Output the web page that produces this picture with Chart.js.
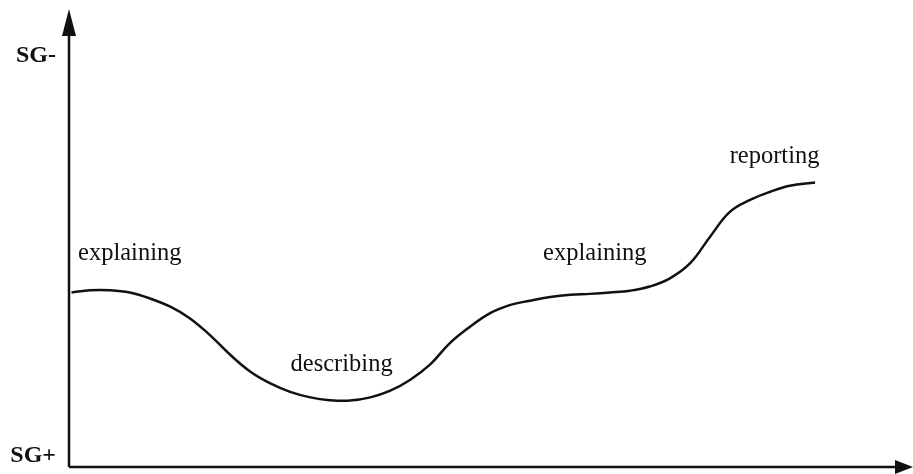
<!DOCTYPE html>
<html>
<head>
    <meta charset="UTF-8">
    <title>Semantic gravity profile</title>
    <script src="https://cdn.jsdelivr.net/npm/chart.js"></script>
    <style>
        html, body { margin: 0; padding: 0; background: #fff; }
        #wrap { width: 913px; height: 474px; position: relative; }
    </style>
</head>
<body>
<div id="wrap"><canvas id="sgChart"></canvas></div>
<script>
    // progress through the lesson (0-100) and semantic gravity level (0 = SG+, 100 = SG-)
    const progress = [0.3, 2.5, 4.9, 7.2, 9.6, 12.0, 14.3, 16.7, 19.1, 21.5, 23.8, 26.2, 28.6, 30.9, 33.3, 35.7,
                      38.0, 40.4, 42.8, 45.1, 47.5, 49.9, 52.3, 54.6, 57.0, 59.4, 61.7, 64.1, 66.5, 68.8, 71.2,
                      73.6, 76.0, 78.3, 80.7, 83.1, 85.4, 88.4];
    const sgLevel = [38.1, 38.6, 38.6, 38.1, 36.8, 35.0, 32.5, 28.8, 24.5, 20.8, 18.3, 16.4, 15.2, 14.6, 14.5, 15.2,
                     16.6, 19.0, 22.4, 27.0, 30.6, 33.6, 35.4, 36.3, 37.1, 37.6, 37.8, 38.1, 38.5, 39.4, 41.2,
                     44.5, 50.4, 55.7, 58.3, 60.1, 61.4, 62.1];

    // phase labels along the curve
    const phaseNames = ['explaining', 'describing', 'explaining', 'reporting'];
    const phaseX = [7.2, 32.3, 62.3, 83.6];
    const phaseY = [46.7, 22.3, 46.7, 67.7];

    const axisTop = 'SG-';
    const axisBottom = 'SG+';

    const points = progress.map((x, i) => ({ x: x, y: sgLevel[i] }));

    const annotations = {
        id: 'annotations',
        afterDraw(chart) {
            const ctx = chart.ctx;
            const xs = chart.scales.x;
            const ys = chart.scales.y;
            const x0 = xs.getPixelForValue(xs.min);
            const x1 = xs.getPixelForValue(xs.max);
            const y0 = ys.getPixelForValue(ys.min);
            const y1 = ys.getPixelForValue(ys.max);

            ctx.save();
            ctx.strokeStyle = '#111';
            ctx.fillStyle = '#111';
            ctx.lineWidth = 2.5;

            // axes
            ctx.beginPath();
            ctx.moveTo(x0, y0);
            ctx.lineTo(x0, y1 + 20);
            ctx.moveTo(x0, y0);
            ctx.lineTo(x1 - 12, y0);
            ctx.stroke();

            // arrowheads
            ctx.beginPath();
            ctx.moveTo(x0, y1);
            ctx.lineTo(x0 - 7, y1 + 27);
            ctx.lineTo(x0 + 7, y1 + 27);
            ctx.closePath();
            ctx.fill();
            ctx.beginPath();
            ctx.moveTo(x1, y0);
            ctx.lineTo(x1 - 18, y0 - 7);
            ctx.lineTo(x1 - 18, y0 + 7);
            ctx.closePath();
            ctx.fill();

            // phase labels
            ctx.font = '24.5px "Liberation Serif", "Times New Roman", serif';
            ctx.textAlign = 'center';
            ctx.textBaseline = 'middle';
            phaseNames.forEach((name, i) => {
                ctx.fillText(name, xs.getPixelForValue(phaseX[i]), ys.getPixelForValue(phaseY[i]));
            });

            // axis end labels
            ctx.font = 'bold 24px "Liberation Serif", "Times New Roman", serif';
            ctx.textAlign = 'right';
            ctx.fillText(axisTop, x0 - 13, 56);
            ctx.fillText(axisBottom, x0 - 13, y0 - 11);
            ctx.restore();
        }
    };

    new Chart(document.getElementById('sgChart'), {
        type: 'line',
        data: {
            datasets: [{
                data: points,
                borderColor: '#111',
                borderWidth: 2.5,
                pointRadius: 0,
                fill: false,
                tension: 0.4
            }]
        },
        options: {
            responsive: true,
            maintainAspectRatio: false,
            animation: false,
            layout: { padding: { left: 69, right: 0, top: 9, bottom: 7 } },
            plugins: { legend: { display: false }, tooltip: { enabled: false } },
            scales: {
                x: { type: 'linear', min: 0, max: 100, display: false },
                y: { min: 0, max: 100, display: false }
            }
        },
        plugins: [annotations]
    });
</script>
</body>
</html>
